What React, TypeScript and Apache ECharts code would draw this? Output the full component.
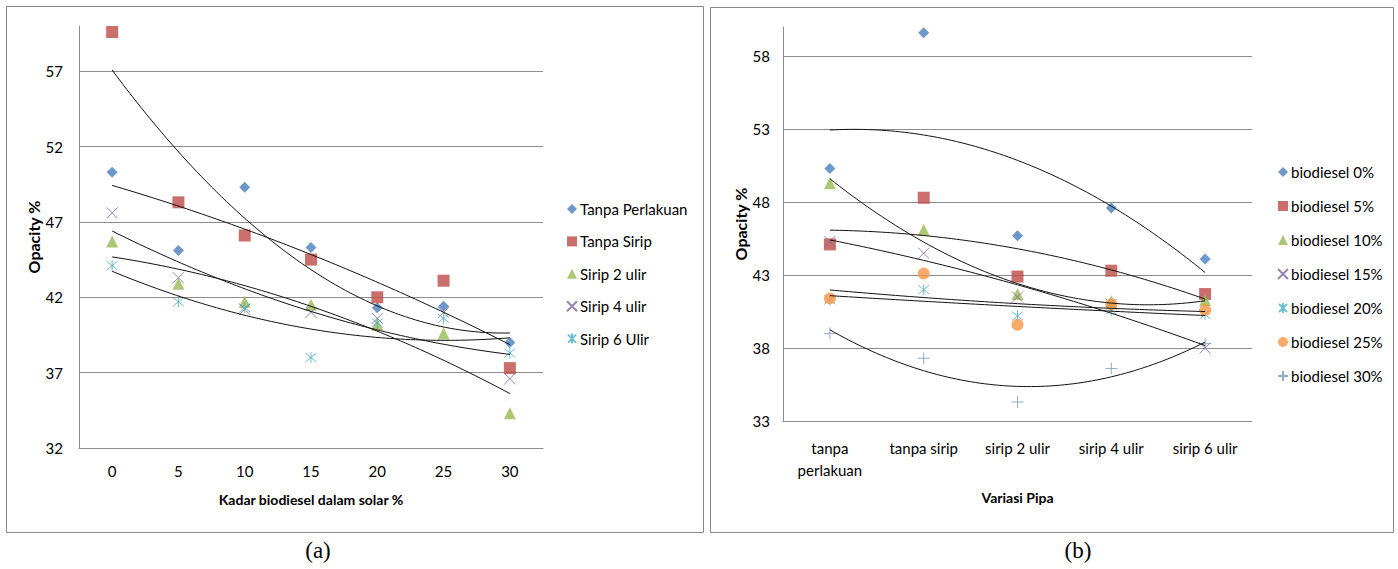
import React, { useEffect, useRef } from 'react';
import * as echarts from 'echarts';

// ---------- data ----------
const biodieselLevels = ['0', '5', '10', '15', '20', '25', '30'];
const biodieselNames = ['biodiesel 0%', 'biodiesel 5%', 'biodiesel 10%', 'biodiesel 15%', 'biodiesel 20%', 'biodiesel 25%', 'biodiesel 30%'];
const pipeNames = ['Tanpa Perlakuan', 'Tanpa Sirip', 'Sirip 2 ulir', 'Sirip 4 ulir', 'Sirip 6 Ulir'];
const pipeLabels = ['tanpa\nperlakuan', 'tanpa sirip', 'sirip 2 ulir', 'sirip 4 ulir', 'sirip 6 ulir'];

// opacity % per pipe variation, over biodiesel levels 0..30
const tanpaPerlakuan = [50.3, 45.1, 49.3, 45.3, 41.3, 41.4, 39.0];
const tanpaSirip = [59.6, 48.3, 46.1, 44.5, 42.0, 43.1, 37.3];
const sirip2Ulir = [45.7, 42.9, 41.7, 41.5, 40.2, 39.6, 34.3];
const sirip4Ulir = [47.6, 43.3, 41.2, 41.0, 40.6, 41.0, 36.6];
const sirip6Ulir = [44.1, 41.7, 41.3, 38.0, 40.3, 40.6, 38.3];

const ticksA = [32, 37, 42, 47, 52, 57];
const ticksB = [33, 38, 43, 48, 53, 58];

// ---------- styling ----------
const FONT = 'Lato, "Liberation Sans", sans-serif';
const GRID = '#8c8c8c';
const COLORS = ['#4A7EBB', '#BE4B48', '#98B954', '#8064A2', '#4BACC6', '#F79646', '#7a98c0'];
const SYMBOLS = [
  'diamond',
  'rect',
  'triangle',
  'path://M0,0L10,10M10,0L0,10',
  'path://M1,1L9,9M9,1L1,9M5,0L5,10',
  'circle',
  'path://M5,0L5,10M0,5L10,5',
];
const SIZES = [11, 12, 12, 11, 11, 12, 12];

// quadratic least-squares trendline (Excel polynomial order 2), x = 0..n-1
function quadFit(ys: number[]) {
  let s0 = 0, s1 = 0, s2 = 0, s3 = 0, s4 = 0, t0 = 0, t1 = 0, t2 = 0;
  ys.forEach((y, x) => {
    s0 += 1; s1 += x; s2 += x * x; s3 += x ** 3; s4 += x ** 4;
    t0 += y; t1 += x * y; t2 += x * x * y;
  });
  const det3 = (m: number[][]) =>
    m[0][0] * (m[1][1] * m[2][2] - m[1][2] * m[2][1]) -
    m[0][1] * (m[1][0] * m[2][2] - m[1][2] * m[2][0]) +
    m[0][2] * (m[1][0] * m[2][1] - m[1][1] * m[2][0]);
  const M = [[s0, s1, s2], [s1, s2, s3], [s2, s3, s4]];
  const T = [t0, t1, t2];
  const D = det3(M);
  const coef = [0, 1, 2].map((k) => det3(M.map((row, i) => row.map((v, j) => (j === k ? T[i] : v)))) / D);
  return (x: number) => coef[0] + coef[1] * x + coef[2] * x * x;
}

function trendPoints(ys: number[]) {
  const f = quadFit(ys);
  const n = ys.length - 1;
  const pts: number[][] = [];
  const steps = 80;
  for (let i = 0; i <= steps; i++) {
    const x = (n * i) / steps;
    pts.push([x, f(x)]);
  }
  return pts;
}

export default function App() {
  const ref = useRef<HTMLDivElement>(null);

  useEffect(() => {
    if (!ref.current) return;
    const chart = echarts.init(ref.current, undefined, { renderer: 'svg' });

    const pipeRows = [tanpaPerlakuan, tanpaSirip, sirip2Ulir, sirip4Ulir, sirip6Ulir];
    const levelCols = biodieselLevels.map((_, j) => pipeRows.map((row) => row[j]));
    const isStroke = (i: number) => i === 3 || i === 4 || i === 6;

    const series: any[] = [];
    pipeRows.forEach((row, i) => {
      series.push({
        type: 'scatter',
        name: pipeNames[i],
        xAxisIndex: 0,
        yAxisIndex: 0,
        data: row,
        symbol: SYMBOLS[i],
        symbolSize: SIZES[i],
        itemStyle: { color: COLORS[i], borderColor: isStroke(i) ? COLORS[i] : undefined, borderWidth: isStroke(i) ? 1 : 0 },
        z: 3,
      });
    });
    pipeRows.forEach((row, i) => {
      series.push({
        type: 'line',
        name: 'trendA' + i,
        xAxisIndex: 1,
        yAxisIndex: 0,
        data: trendPoints(row),
        showSymbol: false,
        symbol: 'none',
        lineStyle: { color: '#111', width: 1 },
        silent: true,
        z: 4,
      });
    });
    levelCols.forEach((col, i) => {
      series.push({
        type: 'scatter',
        name: biodieselNames[i],
        xAxisIndex: 2,
        yAxisIndex: 1,
        data: col,
        symbol: SYMBOLS[i],
        symbolSize: SIZES[i],
        itemStyle: { color: COLORS[i], borderColor: isStroke(i) ? COLORS[i] : undefined, borderWidth: isStroke(i) ? 1 : 0 },
        z: 3,
      });
    });
    levelCols.forEach((col, i) => {
      series.push({
        type: 'line',
        name: 'trendB' + i,
        xAxisIndex: 3,
        yAxisIndex: 1,
        data: trendPoints(col),
        showSymbol: false,
        symbol: 'none',
        lineStyle: { color: '#111', width: 1 },
        silent: true,
        z: 4,
      });
    });

    const labelStyle = { fontFamily: FONT, fontSize: 15, color: '#000' };
    const nameStyle = { fontFamily: FONT, fontSize: 14, fontWeight: 'bold' as const, color: '#000' };
    const yNameStyle = { fontFamily: FONT, fontSize: 16, fontWeight: 'bold' as const, color: '#000' };

    chart.setOption({
      animation: false,
      backgroundColor: '#fff',
      grid: [
        { left: 79, top: 26, width: 464, height: 422, containLabel: false },
        { left: 783, top: 27, width: 469, height: 394, containLabel: false },
      ],
      xAxis: [
        {
          type: 'category',
          gridIndex: 0,
          data: biodieselLevels,
          boundaryGap: true,
          axisLine: { show: true, onZero: false, lineStyle: { color: GRID } },
          axisTick: { show: false },
          axisLabel: { ...labelStyle, margin: 15 },
          splitLine: { show: false },
          name: 'Kadar biodiesel dalam solar %',
          nameLocation: 'middle',
          nameGap: 44,
          nameTextStyle: nameStyle,
        },
        { type: 'value', gridIndex: 0, min: -0.5, max: 6.5, show: false },
        {
          type: 'category',
          gridIndex: 1,
          data: pipeLabels,
          boundaryGap: true,
          axisLine: { show: true, onZero: false, lineStyle: { color: GRID } },
          axisTick: { show: false },
          axisLabel: { ...labelStyle, margin: 16, lineHeight: 22, interval: 0 },
          splitLine: { show: false },
          name: 'Variasi Pipa',
          nameLocation: 'middle',
          nameGap: 69,
          nameTextStyle: nameStyle,
        },
        { type: 'value', gridIndex: 1, min: -0.5, max: 4.5, show: false },
      ],
      yAxis: [
        {
          type: 'value',
          gridIndex: 0,
          min: 32,
          max: 60,
          axisLine: { show: true, onZero: false, lineStyle: { color: GRID } },
          axisTick: { show: false, customValues: ticksA },
          axisLabel: { ...labelStyle, margin: 16, customValues: ticksA },
          splitLine: { show: true, lineStyle: { color: GRID, width: 1 } },
          name: 'Opacity %',
          nameLocation: 'middle',
          nameGap: 34,
          nameTextStyle: yNameStyle,
        },
        {
          type: 'value',
          gridIndex: 1,
          min: 33,
          max: 60,
          axisLine: { show: true, onZero: false, lineStyle: { color: GRID } },
          axisTick: { show: false, customValues: ticksB },
          axisLabel: { ...labelStyle, margin: 13, customValues: ticksB },
          splitLine: { show: true, lineStyle: { color: GRID, width: 1 } },
          name: 'Opacity %',
          nameLocation: 'middle',
          nameGap: 35,
          nameTextStyle: yNameStyle,
        },
      ],
      legend: [
        {
          orient: 'vertical',
          left: 561,
          top: 196,
          itemWidth: 10,
          itemHeight: 10,
          itemGap: 16.4,
          data: pipeNames,
          textStyle: { ...labelStyle, lineHeight: 16, padding: [0, 0, 0, -2] },
          selectedMode: false,
        },
        {
          orient: 'vertical',
          left: 1272,
          top: 159,
          itemWidth: 10,
          itemHeight: 10,
          itemGap: 18,
          data: biodieselNames,
          textStyle: { ...labelStyle, lineHeight: 16, padding: [0, 0, 0, -2] },
          selectedMode: false,
        },
      ],
      graphic: [
        { type: 'rect', shape: { x: 6.5, y: 6.5, width: 697, height: 526 }, style: { fill: 'none', stroke: '#8a8a8a', lineWidth: 1 }, silent: true },
        { type: 'rect', shape: { x: 710.5, y: 7.5, width: 683, height: 525 }, style: { fill: 'none', stroke: '#8a8a8a', lineWidth: 1 }, silent: true },
        { type: 'text', x: 318, y: 550, style: { text: '(a)', fontFamily: '"Liberation Serif", "DejaVu Serif", serif', fontSize: 23, fill: '#000', align: 'center', verticalAlign: 'middle' }, silent: true },
        { type: 'text', x: 1078, y: 550, style: { text: '(b)', fontFamily: '"Liberation Serif", "DejaVu Serif", serif', fontSize: 23, fill: '#000', align: 'center', verticalAlign: 'middle' }, silent: true },
      ],
      series,
    });

    return () => chart.dispose();
  }, []);

  return (
    <div
      ref={ref}
      style={{ position: 'fixed', left: 0, top: 0, width: 1398, height: 569, background: '#fff' }}
    />
  );
}
